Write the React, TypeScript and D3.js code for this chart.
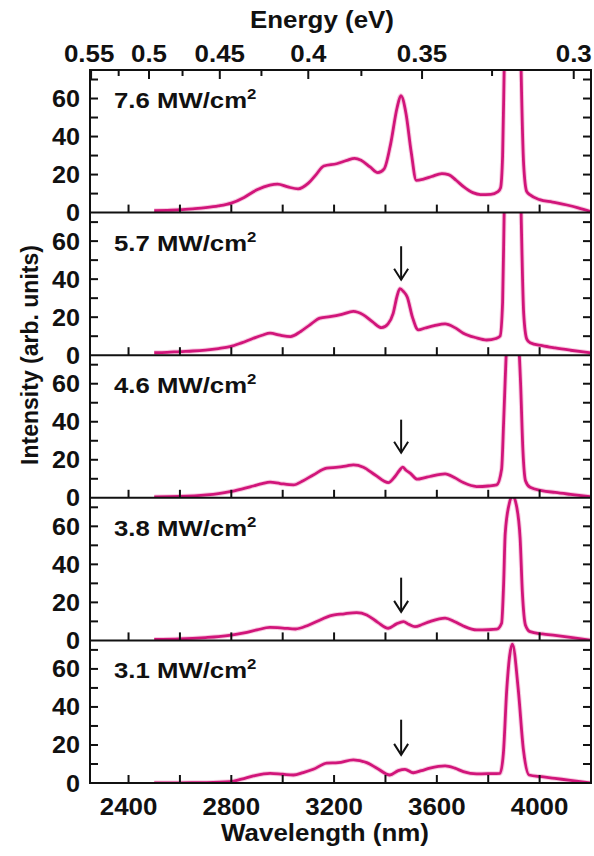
import React from 'react';
import * as d3 from 'd3';

// Power density of each panel (MW/cm^2), top to bottom
const panelLabels = ['7.6', '5.7', '4.6', '3.8', '3.1'];

// Spectra: [wavelength (nm), intensity (arb. units)]
const s76: [number, number][] = [
  [2500, 1], [2550, 1.2], [2600, 1.5], [2650, 2], [2700, 2.6], [2750, 3.5], [2800, 5], [2850, 8],
  [2900, 12], [2950, 14.5], [2980, 15], [3020, 13.5], [3060, 12.5], [3100, 15.5], [3130, 20],
  [3160, 24.5], [3210, 25.7], [3250, 27.5], [3280, 28.5], [3305, 27.5], [3340, 24], [3370, 21],
  [3395, 23], [3420, 36], [3445, 55], [3460, 61.5], [3480, 52], [3500, 32], [3520, 17], [3545, 17.5],
  [3580, 19], [3620, 20.5], [3645, 20], [3675, 17], [3705, 13.5], [3740, 10.5], [3770, 9.5],
  [3810, 9.6], [3838, 11], [3848, 13], [3856, 30], [3862, 75], [3872, 160], [3895, 300], [3918, 160],
  [3928, 75], [3938, 25], [3950, 11], [3963, 9.3], [4000, 6.8], [4050, 5.5], [4106, 4], [4150, 2.5],
  [4200, 0.5],
];
const s57: [number, number][] = [
  [2500, 1.3], [2550, 1.5], [2600, 1.9], [2650, 2.2], [2700, 2.7], [2750, 3.5], [2795, 4.5],
  [2840, 6.5], [2886, 8.9], [2920, 10.5], [2951, 11.6], [2990, 10.5], [3030, 9.8], [3070, 12.5],
  [3106, 16], [3145, 19.5], [3184, 20.3], [3230, 21.5], [3275, 23], [3314, 21.2], [3350, 17.5],
  [3385, 14.5], [3410, 16.5], [3430, 22], [3445, 31], [3456, 35], [3470, 33.5], [3485, 30.5],
  [3505, 20], [3528, 13.3], [3555, 14.3], [3590, 15.5], [3632, 16.5], [3670, 14.5], [3703, 11.6],
  [3750, 9.3], [3794, 8], [3830, 8.8], [3846, 10], [3856, 28], [3862, 75], [3872, 150], [3895, 200],
  [3918, 150], [3928, 75], [3938, 22], [3950, 8.5], [3963, 6.6], [4010, 5], [4060, 3.8], [4120, 2.6],
  [4170, 1.7], [4200, 1.2],
];
const s46: [number, number][] = [
  [2500, 0.5], [2600, 0.7], [2704, 1.5], [2750, 2.2], [2795, 3.2], [2840, 4.6], [2886, 6.2],
  [2920, 7.4], [2951, 8.2], [2990, 7.5], [3042, 6.8], [3080, 9], [3119, 12], [3171, 15.6],
  [3216, 16.1], [3250, 16.8], [3275, 17.3], [3314, 16.1], [3360, 12], [3411, 8], [3437, 11.2],
  [3455, 14.5], [3467, 16.1], [3480, 14.5], [3496, 13], [3524, 9.8], [3550, 10.5], [3573, 11.2],
  [3632, 12.6], [3670, 10.5], [3703, 8], [3755, 5.9], [3800, 6.2], [3833, 6.8], [3852, 15],
  [3860, 40], [3866, 62], [3875, 90], [3895, 110], [3915, 90], [3926, 60], [3935, 25], [3945, 9],
  [3963, 5.5], [4008, 3.8], [4060, 2.8], [4120, 1.8], [4196, 0.6],
];
const s38: [number, number][] = [
  [2500, 0.5], [2600, 0.8], [2700, 1.5], [2750, 2], [2800, 2.8], [2850, 4], [2900, 5.5], [2950, 6.8],
  [3000, 6.5], [3050, 6], [3100, 8], [3150, 11], [3184, 12.9], [3240, 14], [3288, 14.6], [3327, 13.4],
  [3370, 9.5], [3411, 6.4], [3443, 8.7], [3470, 9.9], [3490, 8.5], [3515, 7.2], [3545, 8.5],
  [3573, 9.9], [3632, 11.7], [3670, 9.8], [3703, 7.6], [3755, 5.5], [3800, 5.6], [3833, 5.9],
  [3852, 9], [3860, 30], [3866, 56], [3882, 72], [3895, 76], [3908, 72], [3924, 54], [3933, 25],
  [3945, 8], [3963, 4.6], [4010, 3.4], [4060, 2.6], [4120, 1.6], [4196, 0.2],
];
const s31: [number, number][] = [
  [2500, 0], [2600, 0.1], [2704, 0.2], [2795, 0.7], [2840, 2], [2886, 3.7], [2951, 5.1], [3000, 4.6],
  [3042, 4.2], [3080, 5.5], [3119, 7.2], [3171, 10.4], [3216, 10.7], [3275, 12.2], [3327, 10.7],
  [3370, 7.5], [3417, 4.2], [3450, 6.5], [3476, 7.2], [3508, 5.4], [3540, 6.5], [3573, 7.8],
  [3632, 9], [3670, 7.8], [3703, 6], [3755, 4.8], [3800, 4.9], [3846, 5.1], [3859, 15.7], [3872, 49],
  [3894, 73], [3917, 49], [3937, 17.4], [3959, 4.2], [4008, 3.3], [4060, 2.4], [4120, 1.4], [4196, 0],
];
const spectra = [s76, s57, s46, s38, s31];

// Arrows (wavelength, [top, bottom] in intensity units), null = no arrow
const arrowWavelength = 3461;
const arrowSpans: ([number, number] | null)[] = [null, [57.3, 39.7], [41.1, 23.7], [33, 15], [33.3, 14.8]];

// Axes
const xDomain = [2250, 4200];
const yDomain = [0, 75];
const xLabelTicks = [2400, 2800, 3200, 3600, 4000];
const xAllTicks = [2400, 2600, 2800, 3000, 3200, 3400, 3600, 3800, 4000];
const eMajor = [0.55, 0.5, 0.45, 0.4, 0.35, 0.3];
const eMajorLabels = ['0.55', '0.5', '0.45', '0.4', '0.35', '0.3'];
const eMinor = [0.525, 0.475, 0.425, 0.375, 0.325];
const yMajor = [0, 20, 40, 60];
const yMinor = [10, 30, 50, 70];
const HC = 1239.84;

const FONT = "'Liberation Sans', Arial, Helvetica, sans-serif";
const LINE = '#d1157a';

export default function App() {
  const W = 594, H = 856;
  const left = 90, right = 591, top = 70, bottom = 783;
  const ph = (bottom - top) / 5;
  const x = d3.scaleLinear().domain(xDomain).range([left, right]);
  const sx = 1.08;

  const T = (tx: number, ty: number, content: React.ReactNode, anchor: string, size = 24, scale = sx, key?: any) => (
    <g key={key} transform={`translate(${tx},${ty}) scale(${scale},1)`}>
      <text textAnchor={anchor as any} fontFamily={FONT} fontWeight="bold" fontSize={size} fill="#111">{content}</text>
    </g>
  );

  return (
    <div style={{ position: 'absolute', left: 0, top: 0 }}>
      <svg width={W} height={H} style={{ display: 'block', background: '#fff' }}>
        <defs>
          {panelLabels.map((_, i) => (
            <clipPath id={`clip${i}`} key={i}>
              <rect x={left} y={top + i * ph} width={right - left} height={ph} />
            </clipPath>
          ))}
        </defs>
        {spectra.map((data, i) => {
          const y0 = top + i * ph;
          const y = d3.scaleLinear().domain(yDomain).range([y0 + ph, y0]);
          const line = d3.line<[number, number]>().x(d => x(d[0])).y(d => y(d[1])).curve(d3.curveMonotoneX);
          const path = line(data) || '';
          const span = arrowSpans[i];
          return (
            <g key={i}>
              <g clipPath={`url(#clip${i})`}>
                <path d={path} fill="none" stroke="#f2a6cc" strokeWidth={4.8} strokeOpacity={0.6} strokeLinejoin="round" />
                <path d={path} fill="none" stroke={LINE} strokeWidth={2.8} strokeLinejoin="round" />
              </g>
              {[...yMajor, ...yMinor].filter(v => v > 0).map(v => (
                <g key={'yt' + v}>
                  <line x1={left} x2={left + 8} y1={y(v)} y2={y(v)} stroke="#111" strokeWidth={2} />
                  <line x1={right} x2={right - 8} y1={y(v)} y2={y(v)} stroke="#111" strokeWidth={2} />
                </g>
              ))}
              {yMajor.map(v => T(80, y(v) + 8.5, String(v), 'end', 24, 1.05, 'yl' + v))}
              {xAllTicks.map(t => (
                <line key={'xt' + t} x1={x(t)} x2={x(t)} y1={y0 + ph} y2={y0 + ph - 8} stroke="#111" strokeWidth={2} />
              ))}
              <g transform={`translate(114,${y0 + 38}) scale(1.12,1)`}>
                <text fontFamily={FONT} fontWeight="bold" fontSize={23} fill="#111">
                  {panelLabels[i]} MW/cm<tspan dy={-9} fontSize={15}>2</tspan>
                </text>
              </g>
              {span && (
                <g stroke="#111" strokeWidth={2} fill="none">
                  <line x1={x(arrowWavelength)} x2={x(arrowWavelength)} y1={y(span[0])} y2={y(span[1])} />
                  <path d={`M${x(arrowWavelength) - 7},${y(span[1]) - 11} L${x(arrowWavelength)},${y(span[1])} L${x(arrowWavelength) + 7},${y(span[1]) - 11}`} />
                </g>
              )}
              {i > 0 && <line x1={left} x2={right} y1={y0} y2={y0} stroke="#111" strokeWidth={2} />}
            </g>
          );
        })}
        {eMajor.map(e => (
          <line key={'em' + e} x1={x(HC / e)} x2={x(HC / e)} y1={top} y2={top + 9} stroke="#111" strokeWidth={2} />
        ))}
        {eMinor.map(e => (
          <line key={'en' + e} x1={x(HC / e)} x2={x(HC / e)} y1={top} y2={top + 6} stroke="#111" strokeWidth={2} />
        ))}
        {eMajor.map((e, k) => T(Math.min(x(HC / e), 578) - (k === 0 ? 2 : 0), 62, eMajorLabels[k], 'middle', 24, sx, 'el' + k))}
        {T(322, 28, 'Energy (eV)', 'middle', 24, sx, 'etitle')}
        {xLabelTicks.map(t => T(x(t), 815, String(t), 'middle', 24, sx, 'xl' + t))}
        {T(325, 841, 'Wavelength (nm)', 'middle', 24, sx, 'xtitle')}
        <g transform={`translate(38,355) rotate(-90)`}>
          <text textAnchor="middle" fontFamily={FONT} fontWeight="bold" fontSize={23} fill="#111">Intensity (arb. units)</text>
        </g>
        <rect x={left} y={top} width={right - left} height={bottom - top} fill="none" stroke="#111" strokeWidth={2} />
      </svg>
    </div>
  );
}
